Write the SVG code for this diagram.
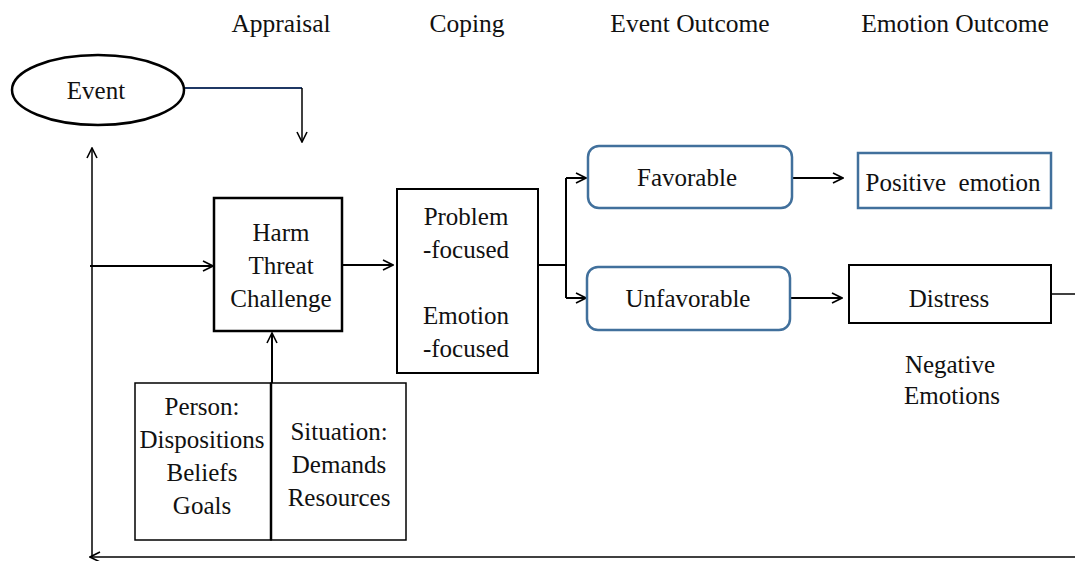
<svg xmlns="http://www.w3.org/2000/svg" width="1075" height="561" viewBox="0 0 1075 561">
<defs>
<marker id="ah" viewBox="0 0 12 12" refX="11" refY="6" markerWidth="12" markerHeight="12" markerUnits="userSpaceOnUse" orient="auto">
<path d="M1,1 L11,6 L1,11" fill="none" stroke="#000" stroke-width="1.6"/>
</marker>
</defs>
<style>
text{font-family:'Liberation Serif',serif;font-size:25px;fill:#111;text-anchor:middle}
.h{font-size:25.5px}
.box{fill:#fff;stroke:#000;stroke-width:2}
.blue{fill:#fff;stroke:#41709c;stroke-width:2.5}
.c{fill:none;stroke:#000;stroke-width:2}
.t{fill:none;stroke:#000;stroke-width:1.5}
</style>
<g id="headers">
<text class="h" x="281" y="32">Appraisal</text>
<text class="h" x="467" y="32">Coping</text>
<text class="h" x="690" y="32">Event Outcome</text>
<text class="h" x="955" y="32">Emotion Outcome</text>
</g>
<g id="connectors">
<path d="M184,88 H302" fill="none" stroke="#1f3864" stroke-width="2"/>
<path class="t" d="M302,88 V142" marker-end="url(#ah)"/>
<path class="t" d="M92,557 V148" marker-end="url(#ah)"/>
<path class="t" d="M1075,557 H90" marker-end="url(#ah)"/>
<path class="c" d="M90,266 H213" marker-end="url(#ah)"/>
<path class="c" d="M342,265 H393" marker-end="url(#ah)"/>
<path class="c" d="M538,265 H566"/>
<path class="c" d="M566,178 V298"/>
<path class="c" d="M566,178 H586" marker-end="url(#ah)"/>
<path class="c" d="M566,298 H586" marker-end="url(#ah)"/>
<path class="c" d="M792,178 H843" marker-end="url(#ah)"/>
<path class="c" d="M790,298 H842" marker-end="url(#ah)"/>
<path class="t" d="M1051,294 H1075"/>
<path class="c" d="M272,383 V333" marker-end="url(#ah)"/>
</g>
<g id="event">
<ellipse cx="98" cy="90" rx="86" ry="35" fill="#fff" stroke="#000" stroke-width="2.5"/>
<text x="96" y="99">Event</text>
</g>
<g id="appraisal">
<rect class="box" x="214" y="198" width="128" height="133" style="stroke-width:2.5"/>
<text x="281" y="241">Harm</text>
<text x="281" y="274">Threat</text>
<text x="281" y="307">Challenge</text>
</g>
<g id="coping">
<rect class="box" x="397" y="189" width="141" height="184"/>
<text x="466" y="225">Problem</text>
<text x="466" y="258">-focused</text>
<text x="466" y="324">Emotion</text>
<text x="466" y="357">-focused</text>
</g>
<g id="favorable">
<rect class="blue" x="588" y="146" width="204" height="62" rx="11"/>
<text x="687" y="186">Favorable</text>
</g>
<g id="unfavorable">
<rect class="blue" x="587" y="267" width="203" height="63" rx="11"/>
<text x="688" y="307">Unfavorable</text>
</g>
<g id="positive">
<rect class="blue" x="858" y="153" width="193" height="55"/>
<text x="953" y="191" xml:space="preserve">Positive  emotion</text>
</g>
<g id="distress">
<rect class="box" x="849" y="265" width="202" height="58"/>
<text x="949" y="307">Distress</text>
</g>
<g id="negative">
<text x="950" y="373">Negative</text>
<text x="952" y="404">Emotions</text>
</g>
<g id="person">
<rect class="box" x="135" y="383" width="136" height="157" style="stroke-width:1.5"/>
<text x="202" y="415">Person:</text>
<text x="202" y="448">Dispositions</text>
<text x="202" y="481">Beliefs</text>
<text x="202" y="514">Goals</text>
</g>
<g id="situation">
<rect class="box" x="271" y="383" width="135" height="157" style="stroke-width:1.5"/>
<path d="M271,383 V540" stroke="#000" stroke-width="2.5"/>
<text x="339" y="440">Situation:</text>
<text x="339" y="473">Demands</text>
<text x="339" y="506">Resources</text>
</g>
</svg>
